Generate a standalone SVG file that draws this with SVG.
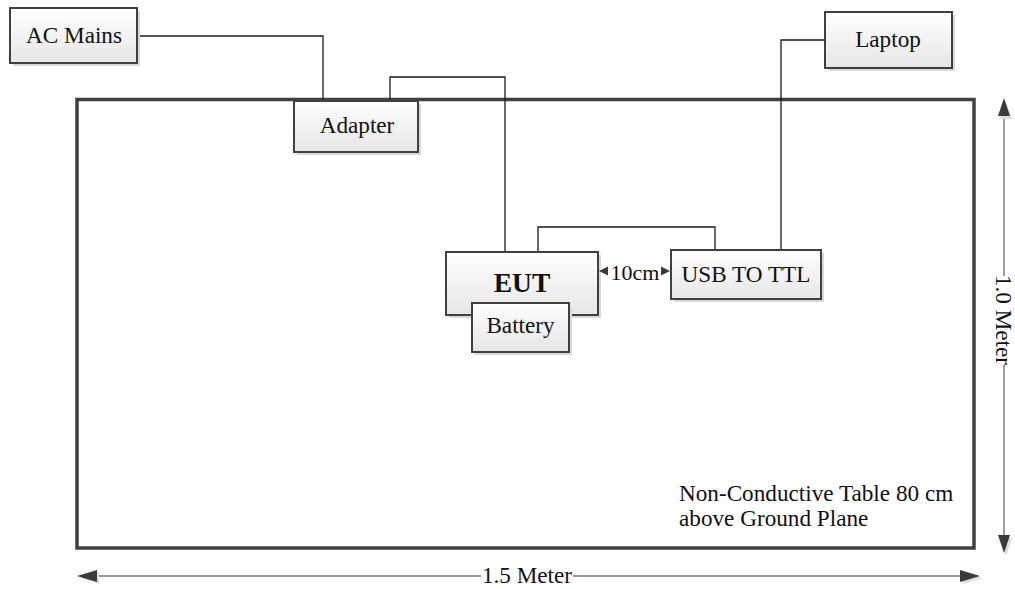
<svg xmlns="http://www.w3.org/2000/svg" width="1015" height="589" viewBox="0 0 1015 589">
<style>
.box{fill:url(#g);stroke:#404040;stroke-width:2}
.sh{fill:#d9d9d9}
.t{font-family:'Liberation Serif','Times New Roman',serif;font-size:23.2px;fill:#111;text-anchor:middle}
.w{stroke:#1a1a1a;stroke-width:1.3;fill:none}
.dim{stroke:#777;stroke-width:1.4;fill:none}
.ah{fill:#3a3a3a}
</style>
<defs>
<linearGradient id="g" x1="0" y1="0" x2="0" y2="1">
<stop offset="0" stop-color="#ffffff"/>
<stop offset="1" stop-color="#e6e6e6"/>
</linearGradient>
</defs>
<rect width="1015" height="589" fill="#fff"/>
<g id="table">
<rect x="77" y="99.5" width="897" height="448.5" fill="none" stroke="#404040" stroke-width="3.5"/>
<text class="t" x="679" y="501" style="text-anchor:start">Non-Conductive Table 80 cm</text>
<text class="t" x="679" y="526" style="text-anchor:start">above Ground Plane</text>
</g>
<g id="connectors">
<polyline class="w" stroke="#444" points="137,36 323,36 323,100"/>
<polyline class="w" points="390,101 390,77 505,77 505,252"/>
<polyline class="w" points="538,252 538,227 715,227 715,250"/>
<polyline class="w" points="781,250 781,40 825,40"/>
</g>
<g id="ac-mains">
<rect class="sh" x="13" y="11" width="127" height="55"/>
<rect class="box" x="10" y="8" width="127" height="55"/>
<text class="t" x="74" y="43">AC Mains</text>
</g>
<g id="laptop">
<rect class="sh" x="828" y="15" width="127" height="56"/>
<rect class="box" x="825" y="12" width="127" height="56"/>
<text class="t" x="888" y="47">Laptop</text>
</g>
<g id="adapter">
<rect class="sh" x="297" y="104" width="124" height="51"/>
<rect class="box" x="294" y="101" width="124" height="51"/>
<text class="t" x="357" y="133">Adapter</text>
</g>
<g id="eut">
<rect class="sh" x="449" y="255" width="152" height="63"/>
<rect class="box" x="446" y="252" width="152" height="63"/>
<text class="t" x="522" y="292" style="font-weight:bold;font-size:27.5px">EUT</text>
</g>
<g id="battery">
<rect class="sh" x="475" y="306" width="97" height="49"/>
<rect class="box" x="472" y="303" width="97" height="49"/>
<text class="t" x="520.5" y="333">Battery</text>
</g>
<g id="usb-ttl">
<rect class="sh" x="674" y="253" width="150" height="49"/>
<rect class="box" x="671" y="250" width="150" height="49"/>
<text class="t" x="746" y="282">USB TO TTL</text>
</g>
<g id="dist-10cm">
<polygon class="ah" points="599,271 608,266.5 608,275.5"/>
<polygon class="ah" points="670,271 661,266.5 661,275.5"/>
<text class="t" x="635" y="280" style="font-size:22px">10cm</text>
</g>
<g id="dim-width">
<line class="dim" x1="95" y1="576" x2="481" y2="576"/>
<line class="dim" x1="573" y1="576" x2="962" y2="576"/>
<polygon points="80,578 99,572 99,584" fill="#ddd"/>
<polygon points="982,578 963,572 963,584" fill="#ddd"/>
<polygon class="ah" points="77,576 97,570 97,582"/>
<polygon class="ah" points="980,576 960,570 960,582"/>
<text class="t" x="527" y="583">1.5 Meter</text>
</g>
<g id="dim-height">
<line class="dim" x1="1004" y1="114" x2="1004" y2="276"/>
<line class="dim" x1="1004" y1="365" x2="1004" y2="537"/>
<polygon points="1006,101 1000,119 1012,119" fill="#ddd"/>
<polygon points="1006,556 1000,538 1012,538" fill="#ddd"/>
<polygon class="ah" points="1004,98 998,116 1010,116"/>
<polygon class="ah" points="1004,553 998,535 1010,535"/>
<text class="t" transform="translate(996,320) rotate(90)" x="0" y="0">1.0 Meter</text>
</g>
</svg>
